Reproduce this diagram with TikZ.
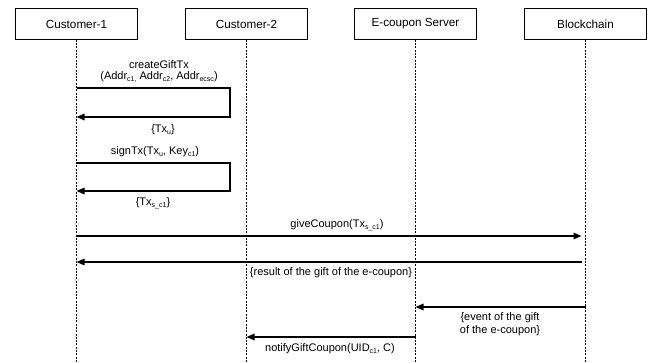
\documentclass[tikz,border=0pt]{standalone}
\usepackage{fontspec}
\setmainfont{Liberation Sans}
\usetikzlibrary{arrows.meta}
% small lowered subscript used in message labels
\newcommand\sbs[1]{\raisebox{-0.35ex}{\fontsize{7}{7}\selectfont #1}}
\begin{document}
\begin{tikzpicture}[x=1pt,y=-1pt,
  actor/.style={draw, line width=0.8pt, minimum width=122pt, minimum height=31pt,
    inner sep=0pt, font=\fontsize{11.7}{14}\selectfont},
  life/.style={line width=0.8pt, dash pattern=on 2pt off 1.3pt},
  msg/.style={line width=1.5pt, -{Triangle[length=8pt,width=6.5pt]}},
  lbl/.style={inner sep=0pt, align=center, font=\fontsize{11}{12.5}\selectfont}]
\useasboundingbox (0,0) rectangle (653,363);

% participants
\node[actor] (c1) at (76.5,24) {Customer-1};
\node[actor] (c2) at (246.5,24) {Customer-2};
\node[actor] (es) at (415.5,24) {E-coupon Server};
\node[actor] (bc) at (585.5,24) {Blockchain};

% lifelines
\foreach \p in {c1,c2,es,bc} {
  \coordinate (\p-end) at (\p.south |- 0,363);
  \draw[life] (\p.south) -- (\p-end);
}

% createGiftTx (self call on Customer-1)
\coordinate (a1) at (c1.south |- 0,88);
\coordinate (a2) at (230,88);
\coordinate (a3) at (230,117);
\coordinate (a4) at (c1.south |- 0,117);
\draw[msg] (a1) -- (a2) -- (a3) -- (a4);
\node[lbl] (l1) at (159,65) {createGiftTx};
\node[lbl] (l2) at (159,77) {(Addr\sbs{c1,} Addr\sbs{c2}, Addr\sbs{ecsc})};
\node[lbl] (l3) at (163,130) {\{Tx\sbs{u}\}};

% signTx (self call on Customer-1)
\coordinate (b1) at (c1.south |- 0,163);
\coordinate (b2) at (230,163);
\coordinate (b3) at (230,191);
\coordinate (b4) at (c1.south |- 0,191);
\draw[msg] (b1) -- (b2) -- (b3) -- (b4);
\node[lbl] (l4) at (155,152) {signTx(Tx\sbs{u}, Key\sbs{c1})};
\node[lbl] (l5) at (153,203) {\{Tx\sbs{s\_c1}\}};

% giveCoupon and its result (both stop just short of the Blockchain lifeline)
\coordinate (g1) at (c1.south |- 0,236);
\coordinate (g2) at ([xshift=-4pt]bc.south |- 0,236);
\draw[msg] (g1) -- (g2);
\node[lbl] (l6) at (337,225) {giveCoupon(Tx\sbs{s\_c1})};
\coordinate (r1) at ([xshift=-4pt]bc.south |- 0,262);
\coordinate (r2) at (c1.south |- 0,262);
\draw[msg] (r1) -- (r2);
\node[lbl] (l7) at (331,273) {\{result of the gift of the e-coupon\}};

% event to the e-coupon server
\coordinate (e1) at (bc.south |- 0,307);
\coordinate (e2) at (es.south |- 0,307);
\draw[msg] (e1) -- (e2);
\node[lbl] (l8) at (500,324) {\{event of the gift\\of the e-coupon\}};

% notification to Customer-2
\coordinate (n1) at (es.south |- 0,337);
\coordinate (n2) at (c2.south |- 0,337);
\draw[msg] (n1) -- (n2);
\node[lbl] (l9) at (330,349) {notifyGiftCoupon(UID\sbs{c1}, C)};
\end{tikzpicture}
\end{document}
